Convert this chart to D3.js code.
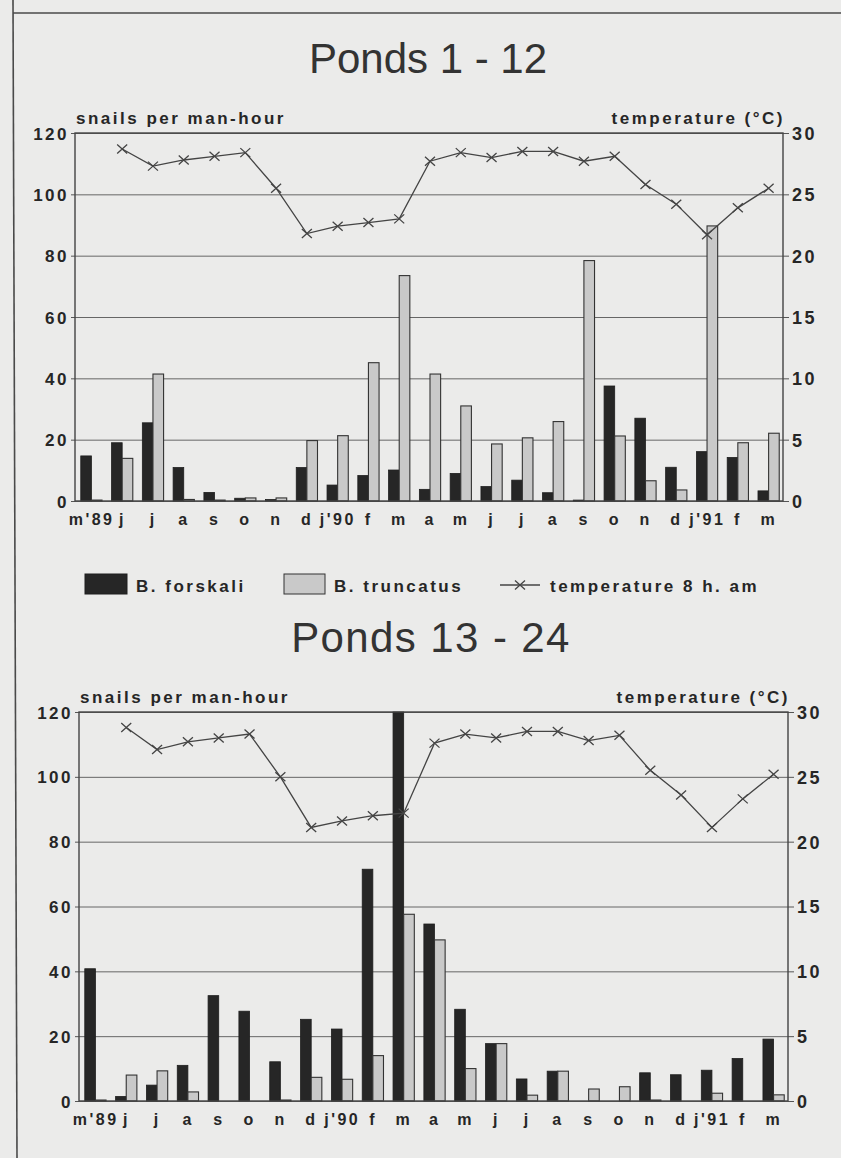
<!DOCTYPE html>
<html><head><meta charset="utf-8">
<script src="https://cdn.jsdelivr.net/npm/d3@7"></script>
<style>
html,body{margin:0;padding:0;background:#ebebea;}
svg{display:block;}
text{font-family:"Liberation Sans",Arial,Helvetica,sans-serif;}
.lbl{font-weight:bold;fill:#262626;font-size:17px;letter-spacing:2.5px;}
.tick text{font-weight:bold;fill:#262626;}
</style></head><body>
<svg id="c" width="841" height="1158"></svg>
<script>
// ---------- data ----------
const months = ["m'89","j","j","a","s","o","n","d","j'90","f","m","a","m","j","j","a","s","o","n","d","j'91","f","m"];
const snailTicks = [0,20,40,60,80,100,120];
const tempTicks = [0,5,10,15,20,25,30];

// Ponds 1 - 12
const p1Forskali  = [14.7,19.0,25.5,10.9,2.8,0.9,0.5,10.9,5.2,8.3,10.1,3.8,9.0,4.7,6.8,2.7,0.3,37.5,27.0,11.0,16.1,14.2,3.3];
const p1Truncatus = [0.3,13.9,41.4,0.5,0.3,1.0,1.0,19.7,21.3,45.1,73.5,41.4,31.0,18.6,20.6,25.9,78.4,21.2,6.6,3.6,89.7,19.0,22.1];
const p1Temp      = [null,28.7,27.3,27.8,28.1,28.4,25.5,21.8,22.4,22.7,23.0,27.7,28.4,28.0,28.5,28.5,27.7,28.1,25.8,24.2,21.7,23.9,25.5];

// Ponds 13 - 24
const p2Forskali  = [40.8,1.4,4.9,11.0,32.5,27.7,12.1,25.2,22.2,71.5,120,54.6,28.3,17.7,6.8,9.2,0,0,8.7,8.1,9.5,13.1,19.1];
const p2Truncatus = [0.3,8.0,9.3,2.8,0,0,0.3,7.3,6.7,14.0,57.6,49.7,10.0,17.7,1.8,9.2,3.7,4.4,0.3,0,2.4,0,1.9];
const p2Temp      = [null,28.8,27.1,27.7,28.0,28.3,25.0,21.1,21.6,22.0,22.2,27.6,28.3,28.0,28.5,28.5,27.8,28.2,25.5,23.6,21.1,23.3,25.2];

const legendLabels = ["B. forskali","B. truncatus","temperature 8 h. am"];

// ---------- drawing ----------
const svg = d3.select("#c");
const DARK = "#262626", GRAY = "#c9c9c9", LINE = "#444";

// page frame lines of the scan
svg.append("line").attr("x1",13).attr("y1",0).attr("x2",17).attr("y2",1158)
  .attr("stroke","#4a4a4a").attr("stroke-width",1.6);
svg.append("line").attr("x1",13).attr("y1",13).attr("x2",841).attr("y2",13)
  .attr("stroke","#4a4a4a").attr("stroke-width",1.6);

function drawChart(cfg, forskali, truncatus, temp) {
  const W = cfg.right - cfg.left;
  const g = svg.append("g");

  const x = d3.scaleBand().domain(d3.range(months.length)).range([cfg.left, cfg.right])
    .paddingInner(0.31).paddingOuter(0.155);
  const xs = d3.scaleBand().domain(["f","t"]).range([1, x.bandwidth() + 1]);
  const y = d3.scaleLinear().domain([0,120]).range([cfg.zero, cfg.top]);
  const yT = d3.scaleLinear().domain([0,30]).range([cfg.zero, cfg.top]);

  // title
  g.append("text").attr("x",cfg.titleX).attr("y",cfg.titleY).attr("text-anchor","middle")
    .style("font-size","42px").style("fill","#333").style("letter-spacing",cfg.titleSpacing+"px")
    .text(cfg.title);

  // axis titles
  g.append("text").attr("class","lbl").attr("x",cfg.left+1).attr("y",cfg.top-9).text("snails per man-hour");
  g.append("text").attr("class","lbl").attr("x",cfg.right+2).attr("y",cfg.top-9)
    .attr("text-anchor","end").text("temperature (°C)");

  // gridlines
  const grid = g.append("g").attr("transform",`translate(${cfg.left},0)`)
    .call(d3.axisLeft(y).tickValues(snailTicks).tickSize(-W).tickFormat(""));
  grid.select(".domain").remove();
  grid.selectAll("line").attr("stroke","#666").attr("stroke-width",1);

  // left axis
  const ga = g.append("g").attr("transform",`translate(${cfg.left},0)`)
    .call(d3.axisLeft(y).tickValues(snailTicks).tickSize(4).tickPadding(2));
  ga.select(".domain").remove();
  ga.selectAll("line").attr("stroke","#555");
  ga.selectAll("text").style("font-size","17px").style("letter-spacing","2.5px").attr("dy","0.36em");

  // right axis
  const gr = g.append("g").attr("transform",`translate(${cfg.right},0)`)
    .call(d3.axisRight(yT).tickValues(tempTicks).tickSize(6).tickPadding(3));
  gr.select(".domain").remove();
  gr.selectAll("line").attr("stroke","#555");
  gr.selectAll("text").style("font-size","18px").style("letter-spacing","2.5px").attr("dy","0.36em");

  // bottom axis (months)
  const gx = g.append("g").attr("transform",`translate(0,${cfg.zero})`)
    .call(d3.axisBottom(x).tickSize(0).tickPadding(13).tickFormat(i => months[i]));
  gx.select(".domain").remove();
  gx.selectAll("text").style("font-size","16px").style("letter-spacing","2.5px")
    .attr("dx","1.2px");

  // bars
  const grp = g.append("g").selectAll("g").data(d3.range(months.length)).join("g")
    .attr("transform", i => `translate(${x(i)},0)`);
  grp.append("rect")
    .attr("x", xs("f")).attr("width", xs.bandwidth())
    .attr("y", i => y(forskali[i])).attr("height", i => cfg.zero - y(forskali[i]))
    .attr("fill", DARK).attr("stroke","#1e1e1e").attr("stroke-width",0.8);
  grp.append("rect")
    .attr("x", xs("t")).attr("width", xs.bandwidth())
    .attr("y", i => y(truncatus[i])).attr("height", i => cfg.zero - y(truncatus[i]))
    .attr("fill", GRAY).attr("stroke","#333").attr("stroke-width",1.1);

  // frame
  g.append("rect").attr("x",cfg.left).attr("y",cfg.top).attr("width",W).attr("height",cfg.zero-cfg.top)
    .attr("fill","none").attr("stroke","#444").attr("stroke-width",1.4);

  // temperature line
  const pts = d3.range(months.length).filter(i => temp[i] != null);
  const cx = i => x(i) + x.bandwidth()/2 + 1;
  g.append("path").datum(pts)
    .attr("d", d3.line().x(cx).y(i => yT(temp[i])))
    .attr("fill","none").attr("stroke",LINE).attr("stroke-width",1.3);
  g.append("g").selectAll("path").data(pts).join("path")
    .attr("transform", i => `translate(${cx(i)},${yT(temp[i])})`)
    .attr("d","M-5,-4.5L5,4.5M-5,4.5L5,-4.5")
    .attr("stroke",LINE).attr("stroke-width",1.3).attr("fill","none");
}

drawChart({left:75,right:783,top:133,zero:501,title:"Ponds 1 - 12",titleX:428,titleY:73,titleSpacing:0},
  p1Forskali, p1Truncatus, p1Temp);
drawChart({left:79,right:788,top:712,zero:1101,title:"Ponds 13 - 24",titleX:431,titleY:652,titleSpacing:1.4},
  p2Forskali, p2Truncatus, p2Temp);

// legend
const lg = svg.append("g");
lg.append("rect").attr("x",85).attr("y",574).attr("width",42).attr("height",20)
  .attr("fill",DARK).attr("stroke","#1e1e1e");
lg.append("text").attr("class","lbl").attr("x",136).attr("y",592).text(legendLabels[0]);
lg.append("rect").attr("x",284).attr("y",574).attr("width",41).attr("height",20)
  .attr("fill",GRAY).attr("stroke","#333");
lg.append("text").attr("class","lbl").attr("x",334).attr("y",592).text(legendLabels[1]);
lg.append("line").attr("x1",500).attr("x2",540).attr("y1",585).attr("y2",585)
  .attr("stroke",LINE).attr("stroke-width",1.3);
lg.append("path").attr("transform","translate(520,585)").attr("d","M-5,-4.5L5,4.5M-5,4.5L5,-4.5")
  .attr("stroke",LINE).attr("stroke-width",1.3);
lg.append("text").attr("class","lbl").attr("x",550).attr("y",592).text(legendLabels[2]);
</script>
</body></html>
